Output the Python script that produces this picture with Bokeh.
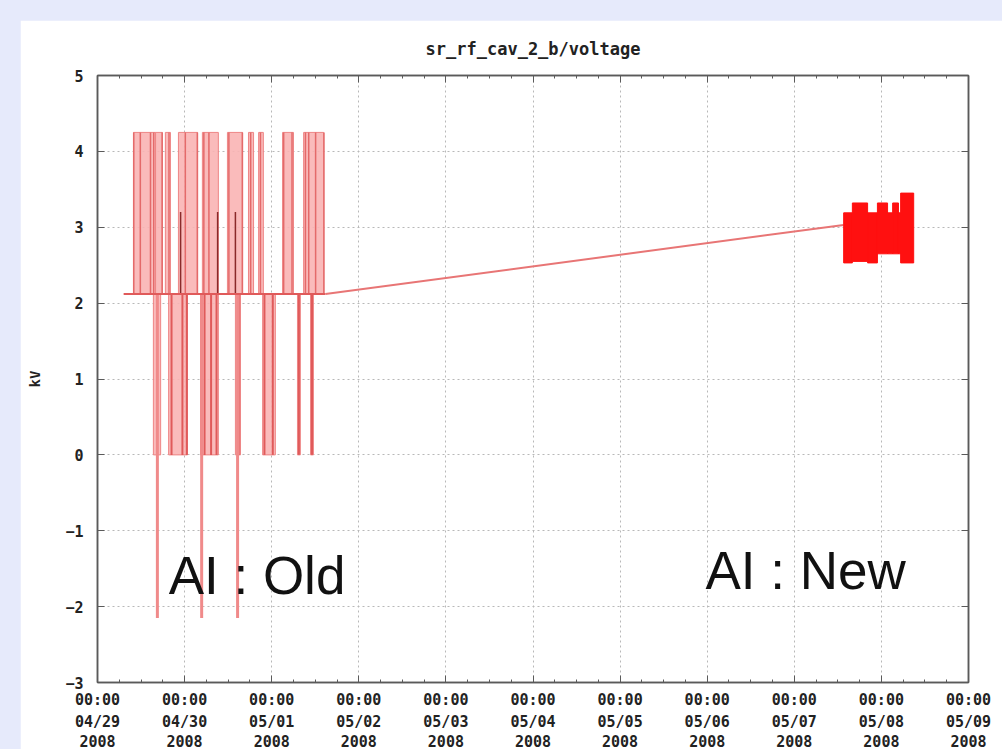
import pandas as pd
from bokeh.plotting import figure
from bokeh.layouts import column
from bokeh.models import (Range1d, FixedTicker, DatetimeTickFormatter, DatetimeAxis,
                          LinearAxis, ColumnDataSource, CustomJSTickFormatter)
from bokeh.core.properties import value
from bokeh.embed import file_html
from bokeh.resources import INLINE

# ---------------- data (hours after 2008-04-29 00:00) ----------------
title_text = "sr_rf_cav_2_b/voltage"
y_label = "kV"
tick_dates = ["2008-04-29", "2008-04-30", "2008-05-01", "2008-05-02", "2008-05-03",
              "2008-05-04", "2008-05-05", "2008-05-06", "2008-05-07", "2008-05-08",
              "2008-05-09"]
tick_line_formats = ["%H:%M", "%m/%d", "%Y"]
y_ticks = [-3, -2, -1, 0, 1, 2, 3, 4, 5]

base_level = 2.12
high_level = 4.25
low_level = 0.0
neg_level = -2.15
mid_level = 3.2

baseline_h = [7.2, 62.8]

up_start_h = [9.9, 16.0, 18.7, 22.3, 28.9, 35.8, 41.6, 44.4, 51.0, 56.8]
up_end_h = [16.0, 17.9, 20.1, 27.6, 33.3, 40.0, 43.0, 45.7, 54.0, 62.3]
up_lines_h = [10.0, 11.8, 14.6, 15.5, 17.8, 19.7, 24.2, 27.5, 29.3, 30.7, 36.2,
              39.9, 42.2, 44.9, 51.3, 53.6, 57.3, 58.2, 60.1, 62.4]

down_start_h = [15.4, 19.6, 28.4, 38.0, 45.5, 55.1, 58.7]
down_end_h = [17.4, 24.8, 33.3, 39.4, 49.0, 55.9, 59.5]
down_lines_h = [16.4, 20.4, 23.4, 24.6, 29.5, 31.3, 32.8, 38.9, 46.0, 48.3, 55.5, 59.1]

neg_spikes_h = [16.5, 28.7, 38.6]
mid_spikes_h = [22.9, 33.1, 38.0]

link_h = [62.8, 205.6]
link_v = [2.12, 3.03]

new_start_h = [205.6, 208.0, 212.2, 214.9, 217.7, 219.1, 220.7, 221.3]
new_end_h = [208.0, 212.2, 214.9, 217.7, 219.1, 220.7, 221.3, 224.9]
new_low = [2.53, 2.55, 2.53, 2.65, 2.65, 2.65, 2.65, 2.53]
new_high = [3.19, 3.32, 3.19, 3.32, 3.19, 3.32, 3.19, 3.45]

note_text = ["AI : Old", "AI : New"]
note_h = [19.6, 167.5]
note_v = [-1.59, -1.53]

# ---------------- helpers ----------------
epoch = pd.Timestamp("1970-01-01")
t0 = pd.Timestamp("2008-04-29")


def h2ms(hs):
    return [(t0 + pd.Timedelta(hours=h) - epoch) / pd.Timedelta(milliseconds=1) for h in hs]


def d2ms(ds):
    return [(pd.Timestamp(d) - epoch) / pd.Timedelta(milliseconds=1) for d in ds]


def dt_fmt(f):
    return DatetimeTickFormatter(milliseconds=f, seconds=f, minsec=f, minutes=f,
                                 hourmin=f, hours=f, days=f, months=f, years=f)


major_ms = d2ms(tick_dates)
minor_ms = []
for a, b in zip(major_ms[:-1], major_ms[1:]):
    for k in range(1, 4):
        minor_ms.append(a + (b - a) * k / 4)

p = figure(output_backend="svg", toolbar_location=None,
           x_axis_type="datetime",
           frame_width=871, frame_height=607,
           min_border_left=77, min_border_right=34, min_border_top=55, min_border_bottom=60,
           x_range=Range1d(major_ms[0], major_ms[-1]), y_range=Range1d(-3, 5),
           title=title_text)

p.background_fill_color = "white"
p.border_fill_color = "white"
p.outline_line_color = "#5a5a5a"
p.outline_line_width = 1.5

p.title.align = "center"
p.title.text_font = "DejaVu Sans Mono"
p.title.text_font_size = "17px"
p.title.text_font_style = "bold"
p.title.text_color = "#222222"
p.title.standoff = 33

xticker = FixedTicker(ticks=major_ms, minor_ticks=minor_ms)
yticker = FixedTicker(ticks=y_ticks, minor_ticks=[])
blank = CustomJSTickFormatter(code="return ''")

xax = p.xaxis[0]
xax.ticker = xticker
xax.formatter = dt_fmt(tick_line_formats[0])
yax = p.yaxis[0]
yax.ticker = yticker
yax.axis_label = y_label

x_extra = []
for f in tick_line_formats[1:]:
    ax = DatetimeAxis(ticker=xticker, formatter=dt_fmt(f))
    p.add_layout(ax, "below")
    x_extra.append(ax)

top_ax = DatetimeAxis(ticker=xticker, formatter=blank)
right_ax = LinearAxis(ticker=yticker, formatter=blank)
p.add_layout(top_ax, "above")
p.add_layout(right_ax, "right")

for ax in [xax, yax, top_ax, right_ax] + x_extra:
    ax.axis_line_color = "#5a5a5a"
    ax.axis_line_width = 1.5
    ax.major_tick_in = 7
    ax.major_tick_out = 0
    ax.minor_tick_in = 3
    ax.minor_tick_out = 0
    ax.major_tick_line_color = "#5a5a5a"
    ax.minor_tick_line_color = "#5a5a5a"
    ax.major_label_text_font = "DejaVu Sans Mono"
    ax.major_label_text_font_style = "bold"
    ax.major_label_text_font_size = "15px"
    ax.major_label_text_color = "#222222"

for ax in [top_ax, right_ax]:
    ax.major_label_standoff = 0

for ax in x_extra:
    ax.axis_line_color = None
    ax.major_tick_line_color = None
    ax.minor_tick_line_color = None
    ax.major_tick_in = 0
    ax.minor_tick_in = 0
    ax.major_label_standoff = 1

xax.major_label_standoff = 8
yax.major_label_standoff = 14
yax.axis_label_text_font = "DejaVu Sans Mono"
yax.axis_label_text_font_style = "bold"
yax.axis_label_text_font_size = "14px"
yax.axis_label_text_color = "#222222"
yax.axis_label_standoff = 19

p.xgrid.ticker = xticker
p.ygrid.ticker = yticker
p.grid.grid_line_color = "#b8b8b8"
p.grid.grid_line_dash = "2 3"
p.grid.grid_line_width = 1

# ---------------- old AI data ----------------
n_up = len(up_start_h)
p.quad(left=h2ms(up_start_h), right=h2ms(up_end_h),
       bottom=[base_level] * n_up, top=[high_level] * n_up,
       fill_color="#f9b4b4", fill_alpha=0.9, line_color="#ee8585", line_width=1)
n_dn = len(down_start_h)
p.quad(left=h2ms(down_start_h), right=h2ms(down_end_h),
       bottom=[low_level] * n_dn, top=[base_level] * n_dn,
       fill_color="#f9b4b4", fill_alpha=0.9, line_color="#ee8585", line_width=1)

up_ms = h2ms(up_lines_h)
p.segment(x0=up_ms, y0=[base_level] * len(up_ms), x1=up_ms, y1=[high_level] * len(up_ms),
          line_color="#e46a6a", line_width=1.5)
dn_ms = h2ms(down_lines_h)
p.segment(x0=dn_ms, y0=[base_level] * len(dn_ms), x1=dn_ms, y1=[low_level] * len(dn_ms),
          line_color="#e05a5a", line_width=2)
ng_ms = h2ms(neg_spikes_h)
p.segment(x0=ng_ms, y0=[base_level] * len(ng_ms), x1=ng_ms, y1=[neg_level] * len(ng_ms),
          line_color="#f08a8a", line_width=3)
md_ms = h2ms(mid_spikes_h)
p.segment(x0=md_ms, y0=[base_level] * len(md_ms), x1=md_ms, y1=[mid_level] * len(md_ms),
          line_color="#8a2a2a", line_width=1.5)

p.line(x=h2ms(baseline_h), y=[base_level] * len(baseline_h),
       line_color="#e05a5a", line_width=2)
p.line(x=h2ms(link_h), y=link_v, line_color="#e87575", line_width=2)

# ---------------- new AI data ----------------
p.quad(left=h2ms(new_start_h), right=h2ms(new_end_h), bottom=new_low, top=new_high,
       fill_color="#ff1010", line_color="#ff1010", line_width=1)

# ---------------- annotations ----------------
notes = ColumnDataSource(dict(x=h2ms(note_h), y=note_v, text=note_text))
p.text(x="x", y="y", text="text", source=notes,
       text_font=value("Liberation Sans"), text_font_size="53px",
       text_color="#111111", text_baseline="middle", text_align="left")

layout = column(p, styles={"background-color": "#e6eafb", "padding": "20px 0 0 20px"})

open("out.html", "w").write(file_html(layout, INLINE))
